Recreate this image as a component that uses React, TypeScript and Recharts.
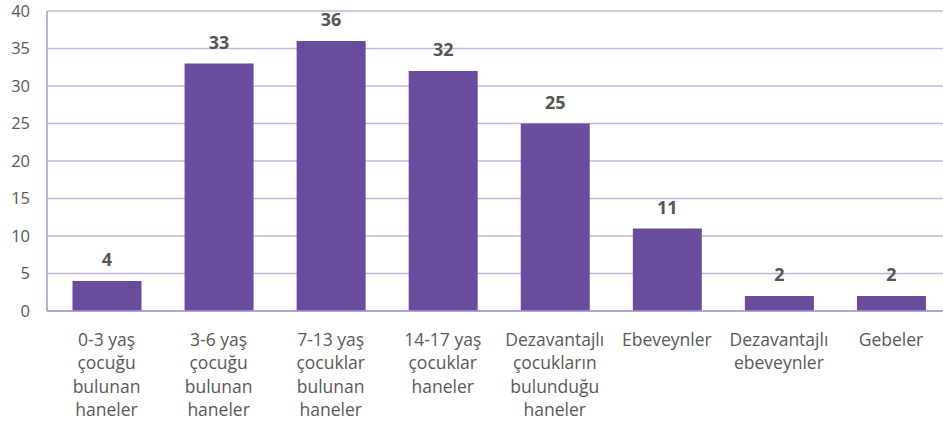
import React from "react";
import { BarChart, Bar, XAxis, YAxis, CartesianGrid, LabelList } from "recharts";

const categories = [
  "0-3 yaş\nçocuğu\nbulunan\nhaneler",
  "3-6 yaş\nçocuğu\nbulunan\nhaneler",
  "7-13 yaş\nçocuklar\nbulunan\nhaneler",
  "14-17 yaş\nçocuklar\nhaneler",
  "Dezavantajlı\nçocukların\nbulunduğu\nhaneler",
  "Ebeveynler",
  "Dezavantajlı\nebeveynler",
  "Gebeler",
];
const values = [4, 33, 36, 32, 25, 11, 2, 2];
const yTicks = [0, 5, 10, 15, 20, 25, 30, 35, 40];

const data = categories.map((c, i) => ({ name: c, value: values[i] }));

const FONT = "'Open Sans', Lato, sans-serif";

const XTick = (props: any) => {
  const { x, y, payload } = props;
  const lines = String(payload.value).split("\n");
  return (
    <g transform={`translate(${x},${y})`}>
      {lines.map((l: string, i: number) => (
        <text
          key={i}
          x={0}
          y={i * 23.6}
          dy={14.5}
          textAnchor="middle"
          fill="#595959"
          fontSize={17.5}
          fontFamily={FONT}
        >
          {l}
        </text>
      ))}
    </g>
  );
};

export default function App() {
  return (
    <div style={{ position: "absolute", left: 0, top: 0, width: 943, height: 429, overflow: "hidden", background: "#fff" }}>
      <BarChart
        width={947}
        height={429}
        data={data}
        margin={{ top: 11, right: 0, bottom: 0, left: 0 }}
        barSize={69}
      >
        <CartesianGrid vertical={false} stroke="#C3B6DE" strokeWidth={1.3} />
        <XAxis
          dataKey="name"
          interval={0}
          height={118}
          tick={<XTick />}
          tickLine={false}
          padding={{ left: 3.5, right: 0 }}
          axisLine={{ stroke: "#A896CC", strokeWidth: 1.5 }}
          tickMargin={14}
        />
        <YAxis
          width={47}
          domain={[0, 40]}
          ticks={yTicks}
          interval={0}
          tickLine={false}
          tickSize={0}
          tickMargin={17}
          axisLine={{ stroke: "#A896CC", strokeWidth: 1.5 }}
          tick={{ fill: "#595959", fontSize: 16.5, fontFamily: FONT }}
        />
        <Bar dataKey="value" fill="#6A4C9C" isAnimationActive={false}>
          <LabelList
            dataKey="value"
            position="top"
            offset={15}
            fill="#555555"
            fontSize={18}
            fontWeight="bold"
            fontFamily={FONT}
          />
        </Bar>
      </BarChart>
    </div>
  );
}
